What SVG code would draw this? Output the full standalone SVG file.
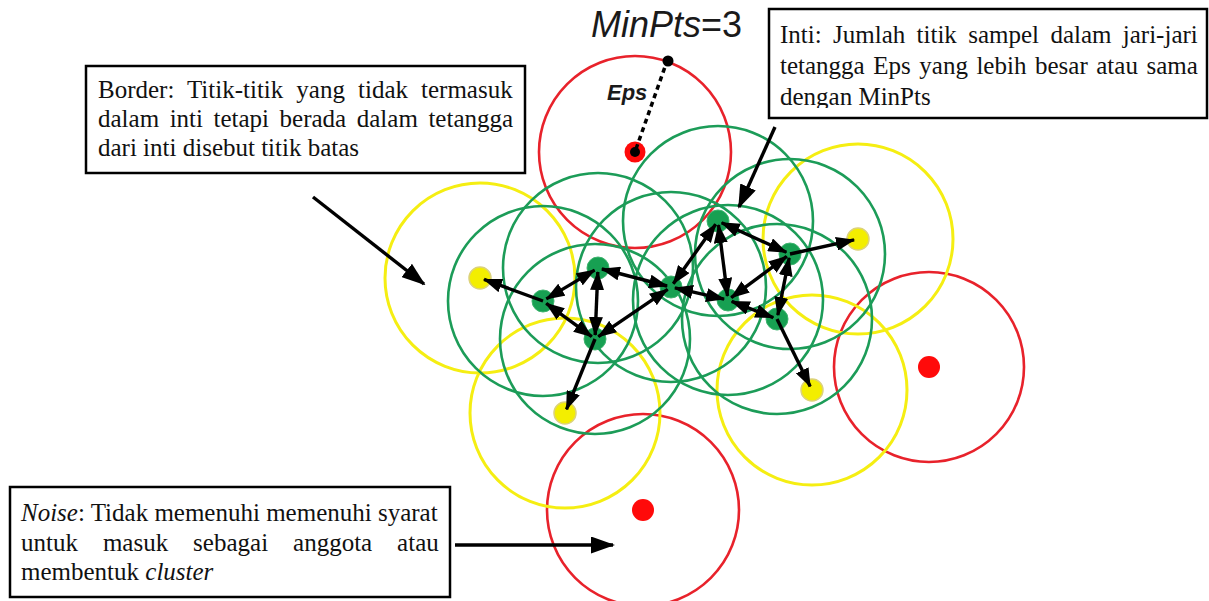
<svg xmlns="http://www.w3.org/2000/svg" width="1209" height="601" viewBox="0 0 1209 601">
<style>
.bg{fill:#ffffff}
.eps-r{fill:none;stroke:#e8222b;stroke-width:2.6}
.eps-y{fill:none;stroke:#f5ee12;stroke-width:3}
.eps-g{fill:none;stroke:#1c9c58;stroke-width:2.6}
.dot-r{fill:#ff0a0a}
.dot-y{fill:#f3ee00;stroke:#dcd27a;stroke-width:1.5}
.dot-g{fill:#17a052;stroke:#3fb46f;stroke-width:1}
.link{fill:none;stroke:#000;stroke-width:3.4}
.ptr{fill:none;stroke:#000;stroke-width:3.4}
.box{fill:#ffffff;stroke:#000;stroke-width:2.5}
.txt{font-family:"Liberation Serif","Times New Roman",serif;font-size:25px;fill:#111}
.lbl{font-family:"Liberation Sans",Arial,sans-serif;fill:#1a1a1a}
</style>
<defs>
<marker id="ah" viewBox="0 0 19 14" refX="18" refY="7" markerWidth="19" markerHeight="14" markerUnits="userSpaceOnUse" orient="auto-start-reverse">
<path d="M0,0 L19,7 L0,14 z" fill="#000"/>
</marker>
<marker id="ahp" viewBox="0 0 24 17" refX="22" refY="8.5" markerWidth="24" markerHeight="17" markerUnits="userSpaceOnUse" orient="auto">
<path d="M0,0 L24,8.5 L0,17 z" fill="#000"/>
</marker>
<clipPath id="intiClip"><rect x="770" y="10" width="436" height="98"/></clipPath>
</defs>
<rect class="bg" x="0" y="0" width="1209" height="601"/>

<g id="noise-top"><circle class="eps-r" cx="635" cy="152" r="96"/><circle cx="635" cy="152" r="10.5" fill="#ff0a0a"/><circle cx="635" cy="152" r="5" fill="#000"/></g>
<g id="noise-right"><circle class="eps-r" cx="929" cy="367" r="95"/><circle class="dot-r" cx="929" cy="367" r="11"/></g>
<g id="noise-bottom"><circle class="eps-r" cx="643" cy="510" r="96"/><circle class="dot-r" cx="643" cy="510" r="11"/></g>

<g id="border-1"><circle class="eps-y" cx="480" cy="278" r="95"/><circle class="dot-y" cx="480" cy="278" r="11"/></g>
<g id="border-2"><circle class="eps-y" cx="565" cy="413" r="95"/><circle class="dot-y" cx="565" cy="413" r="11"/></g>
<g id="border-3"><circle class="eps-y" cx="858" cy="239" r="95"/><circle class="dot-y" cx="858" cy="239" r="11"/></g>
<g id="border-4"><circle class="eps-y" cx="812" cy="390" r="95"/><circle class="dot-y" cx="812" cy="390" r="11"/></g>

<g id="core-a"><circle class="eps-g" cx="598" cy="268" r="95"/><circle class="dot-g" cx="598" cy="268" r="11"/></g>
<g id="core-b"><circle class="eps-g" cx="543" cy="301" r="95"/><circle class="dot-g" cx="543" cy="301" r="11"/></g>
<g id="core-c"><circle class="eps-g" cx="595" cy="339" r="95"/><circle class="dot-g" cx="595" cy="339" r="11"/></g>
<g id="core-d"><circle class="eps-g" cx="671" cy="287" r="95"/><circle class="dot-g" cx="671" cy="287" r="11"/></g>
<g id="core-e"><circle class="eps-g" cx="718" cy="221" r="95"/><circle class="dot-g" cx="718" cy="221" r="11"/></g>
<g id="core-f"><circle class="eps-g" cx="790" cy="254" r="95"/><circle class="dot-g" cx="790" cy="254" r="11"/></g>
<g id="core-g"><circle class="eps-g" cx="728" cy="300" r="95"/><circle class="dot-g" cx="728" cy="300" r="11"/></g>
<g id="core-h"><circle class="eps-g" cx="777" cy="319" r="95"/><circle class="dot-g" cx="777" cy="319" r="11"/></g>

<g id="connectors">
<line class="link" x1="543" y1="301" x2="484" y2="279.4" marker-end="url(#ah)"/>
<line class="link" x1="546.4" y1="298.9" x2="594.6" y2="270.1" marker-start="url(#ah)" marker-end="url(#ah)"/>
<line class="link" x1="546.2" y1="303.4" x2="591.8" y2="336.6" marker-start="url(#ah)" marker-end="url(#ah)"/>
<line class="link" x1="597.8" y1="272" x2="595.2" y2="335" marker-start="url(#ah)" marker-end="url(#ah)"/>
<line class="link" x1="601.9" y1="269" x2="667.1" y2="286" marker-start="url(#ah)" marker-end="url(#ah)"/>
<line class="link" x1="598.3" y1="336.7" x2="667.7" y2="289.3" marker-start="url(#ah)" marker-end="url(#ah)"/>
<line class="link" x1="595" y1="339" x2="566.5" y2="409.3" marker-end="url(#ah)"/>
<line class="link" x1="673.3" y1="283.7" x2="715.7" y2="224.3" marker-start="url(#ah)" marker-end="url(#ah)"/>
<line class="link" x1="674.9" y1="287.9" x2="724.1" y2="299.1" marker-start="url(#ah)" marker-end="url(#ah)"/>
<line class="link" x1="718.5" y1="225" x2="727.5" y2="296" marker-start="url(#ah)" marker-end="url(#ah)"/>
<line class="link" x1="721.6" y1="222.7" x2="786.4" y2="252.3" marker-start="url(#ah)" marker-end="url(#ah)"/>
<line class="link" x1="786.8" y1="256.4" x2="731.2" y2="297.6" marker-start="url(#ah)" marker-end="url(#ah)"/>
<line class="link" x1="790" y1="254" x2="854.1" y2="239.9" marker-end="url(#ah)"/>
<line class="link" x1="789.2" y1="257.9" x2="777.8" y2="315.1" marker-start="url(#ah)" marker-end="url(#ah)"/>
<line class="link" x1="731.7" y1="301.4" x2="773.3" y2="317.6" marker-start="url(#ah)" marker-end="url(#ah)"/>
<line class="link" x1="777" y1="319" x2="810.2" y2="386.4" marker-end="url(#ah)"/>
<line x1="636" y1="149" x2="666" y2="64" stroke="#000" stroke-width="3.5" stroke-dasharray="5,4"/>
<circle cx="668" cy="61" r="5.5" fill="#000"/>
<line class="ptr" x1="313" y1="197" x2="424" y2="284" marker-end="url(#ahp)"/>
<line class="ptr" x1="775" y1="127" x2="739" y2="207" marker-end="url(#ahp)"/>
<line class="ptr" x1="455" y1="545" x2="613" y2="545" marker-end="url(#ahp)"/>
</g>

<g id="label-minpts"><text class="lbl" x="591" y="37" font-size="36"><tspan font-style="italic">MinPts</tspan>=3</text></g>
<g id="label-eps"><text class="lbl" x="607" y="100" font-size="22" font-weight="bold" font-style="italic">Eps</text></g>

<g id="callout-border">
<rect class="box" x="86" y="66" width="439" height="107"/>
<text class="txt" x="98" y="98" word-spacing="6.8">Border: Titik-titik yang tidak termasuk</text>
<text class="txt" x="98" y="127" word-spacing="4.3">dalam inti tetapi berada dalam tetangga</text>
<text class="txt" x="98" y="156">dari inti disebut titik batas</text>
</g>

<g id="callout-inti">
<rect class="box" x="769" y="9" width="438" height="109"/>
<g clip-path="url(#intiClip)">
<text class="txt" x="780" y="43" word-spacing="5.1">Inti: Jumlah titik sampel dalam jari-jari</text>
<text class="txt" x="780" y="74" word-spacing="2.3">tetangga Eps yang lebih besar atau sama</text>
<text class="txt" x="780" y="105">dengan MinPts</text>
</g>
</g>

<g id="callout-noise">
<rect class="box" x="10" y="487" width="440" height="110"/>
<text class="txt" x="21" y="521"><tspan font-style="italic">Noise</tspan>: Tidak memenuhi memenuhi syarat</text>
<text class="txt" x="21" y="551" word-spacing="18.7">untuk masuk sebagai anggota atau</text>
<text class="txt" x="21" y="580">membentuk <tspan font-style="italic">cluster</tspan></text>
</g>
</svg>
